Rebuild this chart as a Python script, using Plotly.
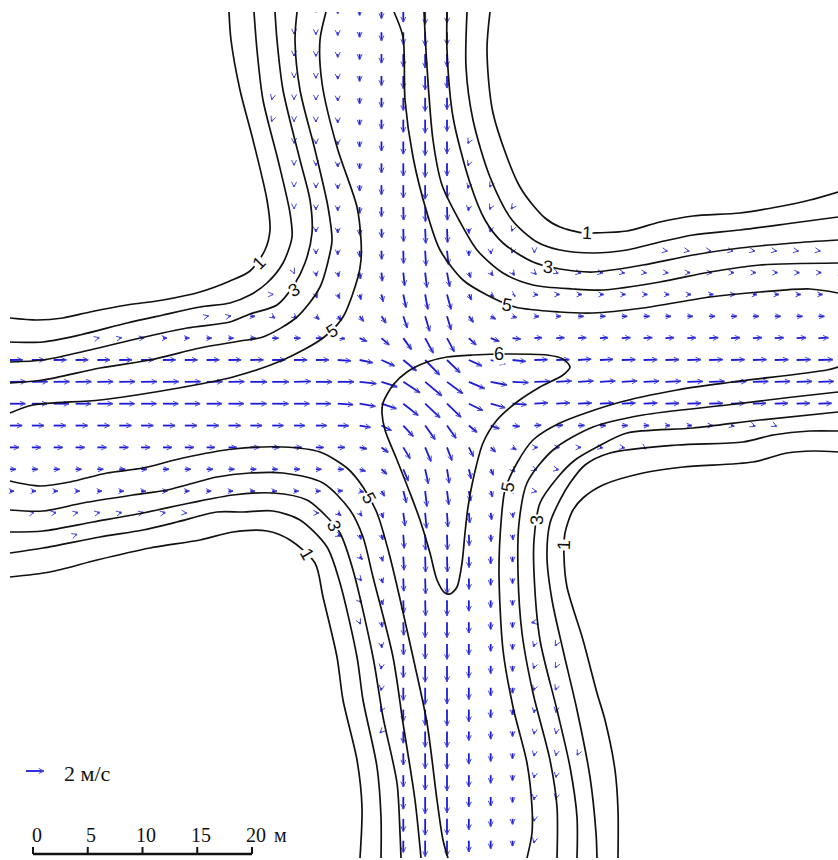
import numpy as np
import plotly.graph_objs as go

# drawing units of the sheet: 10.95 units = 1 m, 9 units = 1 m/s
UNITS_PER_METRE = 10.95
UNITS_PER_MS = 9.0
GRID_X0, GRID_Y0, GRID_STEP = 10.0, 10.4, 21.85

_ = None
# eastward speed, m/s, one row of the 2 m grid per line (north to south)
U = [
    [_]*14 + [0, 0, 0, 0, 0, 0, 0],
    [_]*13 + [0, 0, 0, 0, 0, 0, 0, 0],
    [_]*13 + [0, 0, 0, 0, 0, 0, 0, 0],
    [_]*13 + [0, 0, 0, 0, 0, 0, 0, 0],
    [_]*12 + [-.05, 0, 0, 0, 0, 0, 0, 0, 0],
    [_]*12 + [-.08, 0, 0, 0, 0, 0, 0, 0, 0],
    [_]*13 + [0, 0, 0, 0, 0, 0, 0, 0, -.1],
    [_]*13 + [0, 0, 0, 0, 0, 0, 0, 0, -.1],
    [_]*13 + [0, 0, 0, 0, 0, 0, 0, .03, -.1, -.1],
    [_]*13 + [0, 0, 0, 0, 0, .03, .03, .05, -.05, -.1, -.15],
    [_]*14 + [0, 0, .03, .03, .03, .07, .07, 0, -.05, -.1],
    [_]*14 + [0, 0, .03, .03, .03, .1, .18, 0, .03, -.1, 0] + [_]*5 + [.2, .2, .2, .2, .2, .2, .2, .2],
    [_]*13 + [.05, .05, .1, .1, .1, .15, .2, .3, .2, .25, .2, .2, .2, .3, .3, .3, .3, .3, .3, .3, .3, .3, .3, .3, .3, .3],
    [_]*12 + [.1, _, .1, .2, .15, .2, .3, .3, .45, .3, .35, .3, .4, .35, .4, .4, .4, .4, .4, .4, .45, .45, .45, .45, .45, .45],
    [_]*9 + [.2, .25, .5, .3, .3, .35, .45, .45, .5, .45, .5, .45, .5, .55, .45, .5, .5, .6, .6, .6, .65, .6, .6, .65, .65, .65, .65, .65, .65, .65],
    [_]*4 + [.2, .25, .35, .45, .5, .55, .55, .6, .7, .7, .8, .8, .8, .85, .9, .9, .8, .8, .95, .9, .85, .9, .9, .9, .95, .95, .95, .95, 1, 1, 1, 1, 1.05, 1.1],
    [1.4, 1.4, 1.4, 1.4, 1.4, 1.4, 1.4, 1.4, 1.4, 1.4, 1.4, 1.45, 1.45, 1.45, 1.45, 1.45, 1.45, 1.45, 1.45, 1.6, 1.45, 1.45, 1.6, 1.45, 1.45, 1.45, 1.45, 1.45, 1.5, 1.5, 1.5, 1.5, 1.5, 1.5, 1.5, 1.5, 1.55, 1.6],
    [1.75, 1.75, 1.75, 1.75, 1.75, 1.75, 1.75, 1.75, 1.75, 1.75, 1.75, 1.85, 1.85, 1.85, 1.8, 1.8, 1.85, 1.75, 1.85, 1.85, 1.75, 1.75, 1.8, 1.75, 1.75, 1.7, 1.7, 1.7, 1.7, 1.7, 1.7, 1.7, 1.7, 1.7, 1.7, 1.7, 1.7, 1.7],
    [1.7, 1.7, 1.7, 1.7, 1.7, 1.7, 1.7, 1.7, 1.7, 1.7, 1.7, 1.8, 1.8, 1.7, 1.65, 1.7, 1.75, 1.65, 1.65, 1.65, 1.55, 1.55, 1.6, 1.55, 1.5, 1.5, 1.5, 1.5, 1.5, 1.5, 1.5, 1.5, 1.5, 1.5, 1.45, 1.45, 1.45, 1.45],
    [1.35, 1.35, 1.35, 1.35, 1.35, 1.35, 1.35, 1.35, 1.35, 1.35, 1.35, 1.3, 1.25, 1.2, 1.2, 1.2, 1.2, 1.1, 1.1, 1.1, 1, .9, .95, .8, .75, .75, .7, .65, .65, .6, .5, .5, .4, .35, .25, .2],
    [1, 1, 1, 1, 1, 1, 1, 1, 1, .9, .9, 1, .8, .85, .85, .8, .8, .75, .75, .65, .55, .5, .55, .4, .35, .35, .3, .3, .3, .25],
    [.65, .65, .65, .65, .65, .65, .65, .65, .65, .7, .65, .65, .6, .65, .6, .65, .65, .6, .55, .35, .25, .25, .3, .25, .25, .25],
    [.45, .45, .45, .45, .5, .5, .5, .5, .5, .5, .5, .5, .5, .5, .5, .55, .45, .35, .35, .2, .2, .2, .2, .15, .25],
    [_, .2, .25, .25, .25, .25, .25, .25, .2] + [_]*5 + [.3, .35, .25, .2, .2, .15, .1, .1, .1, .08],
    [_]*3 + [.15] + [_]*11 + [.35, .15, .15, .1, .05, .05, .05, .05, .05],
    [_]*16 + [.3, .15, .08, .05, .05, .03, 0, 0],
    [_]*16 + [.2, .15, .05, .05, .02, .02, 0, 0],
    [_]*16 + [.2, .15, .05, .05, 0, 0, 0, 0],
    [_]*16 + [.1, .1, .05, 0, 0, 0, 0, 0, -.3],
    [_]*17 + [.05, .03, 0, 0, 0, 0, 0, -.1, -.1],
    [_]*17 + [-.05, 0, 0, 0, 0, 0, 0, -.1, -.1],
    [_]*17 + [-.05, 0, 0, 0, 0, 0, 0, -.1, -.1],
    [_]*17 + [-.1, 0, 0, 0, 0, 0, 0, -.05, -.05],
    [_]*17 + [-.15, 0, 0, 0, 0, 0, 0, -.05, -.05],
    [_]*18 + [0, 0, 0, 0, 0, 0, -.05, -.05, -.1],
    [_]*18 + [0, 0, 0, 0, 0, 0, -.05, -.05],
    [_]*18 + [0, 0, 0, 0, 0, 0, -.05, -.05],
    [_]*18 + [0, 0, 0, 0, 0, 0, -.05],
    [_]*18 + [0, 0, 0, 0, 0, 0, -.05],
]
# northward speed, m/s, same shape as U
V = [
    [_]*14 + [-.2, -.35, -.55, -.9, -1.3, -1.55, -1.4],
    [_]*13 + [-.2, -.25, -.35, -.55, -.95, -1.35, -1.5, -1.4],
    [_]*13 + [-.2, -.25, -.35, -.6, -1, -1.4, -1.55, -1.4],
    [_]*13 + [-.2, -.25, -.35, -.6, -1.05, -1.4, -1.55, -1.35],
    [_]*12 + [-.2, -.2, -.25, -.35, -.65, -1.05, -1.4, -1.5, -1.3],
    [_]*12 + [-.2, -.2, -.25, -.35, -.6, -1.05, -1.4, -1.5, -1.3],
    [_]*13 + [-.2, -.25, -.35, -.6, -1.05, -1.4, -1.55, -1.35, -.2],
    [_]*13 + [-.2, -.25, -.4, -.6, -1.05, -1.4, -1.55, -1.4, -.25],
    [_]*13 + [-.2, -.3, -.4, -.65, -1.05, -1.4, -1.55, -1.4, -.35, -.2],
    [_]*13 + [-.2, -.3, -.4, -.7, -1.05, -1.45, -1.6, -1.45, -.4, -.25, -.2],
    [_]*14 + [-.35, -.45, -.7, -.95, -1.4, -1.6, -1.5, -.5, -.35, -.25],
    [_]*14 + [-.35, -.45, -.7, -.95, -1.4, -1.65, -1.55, -.55, -.35, -.25, -.2] + [_]*5 + [-.03, -.03, -.03, -.03, -.03, -.03, -.03, -.03],
    [_]*13 + [-.1, -.4, -.45, -.7, -.95, -1.45, -1.65, -1.55, -.55, -.35, -.3, -.2, -.1, -.05, -.05, -.05, -.03, -.03, 0, 0, 0, 0, 0, 0, 0, 0],
    [_]*12 + [0, _, -.4, -.45, -.55, -.8, -1.45, -1.65, -1.65, -.6, -.3, -.2, -.05, 0, 0, 0, 0, 0, 0, 0, 0, 0, 0, 0, 0, 0],
    [_]*9 + [.05, .05, 0, -.2, -.25, -.35, -.45, -.55, -.75, -1.3, -1.65, -1.5, -.65, -.3, -.15, -.02, 0, 0, 0, 0, 0, 0, 0, 0, 0, 0, 0, 0, 0, 0],
    [_]*4 + [.05, .05, .05, .03, .02, 0, 0, 0, 0, 0, 0, -.05, -.35, -.75, -1.25, -1.65, -1.5, -.75, -.35, -.1, .05, .05, .05, .05, .05, .05, .05, .05, .05, .05, .05, .05, .05, .05],
    [.02, .02, .02, .02, .02, .02, .02, .02, .02, .02, .02, .02, .02, .02, .02, -.1, -.3, -.65, -1.2, -1.65, -1.4, -.65, -.45, -.15, .05, .05, .1, .08, .05, .05, .05, .05, .05, .05, .05, .05, .05, .05],
    [.02, .02, .02, .02, .02, .02, .02, .02, .02, .02, .02, 0, 0, .05, 0, 0, -.2, -.55, -1.2, -1.55, -1.3, -.75, -.35, -.08, .05, .1, .1, .1, .1, .08, .08, .05, .05, .05, .05, .05, .05, .05],
    [0, 0, 0, 0, 0, 0, 0, 0, 0, 0, 0, 0, 0, 0, 0, -.1, -.3, -.55, -1.3, -1.55, -1.5, -.75, -.45, -.1, .1, .1, .08, .08, .08, .08, .05, .05, .05, .05, .05, .05, .05, .05],
    [0, 0, 0, 0, 0, 0, 0, 0, 0, 0, 0, 0, 0, 0, 0, -.02, -.2, -.55, -1.2, -1.55, -1.4, -.75, -.35, -.1, .05, .05, .02, 0, 0, 0, 0, 0, 0, -.05, -.1, -.1],
    [0, 0, 0, 0, 0, 0, 0, 0, 0, 0, 0, 0, 0, 0, 0, 0, -.15, -.55, -1.25, -1.55, -1.45, -1, -.5, -.25, 0, 0, 0, -.05, -.05, -.15],
    [0, 0, 0, 0, 0, 0, 0, 0, 0, 0, 0, 0, 0, 0, 0, 0, -.2, -.55, -1.3, -1.6, -1.55, -1.05, -.65, -.3, -.1, -.05],
    [0, 0, 0, 0, 0, 0, 0, 0, 0, 0, 0, 0, 0, 0, 0, .05, -.08, -.55, -1.3, -1.7, -1.5, -1.1, -.65, -.3, -.05],
    [_, .05, .05, .05, .05, .05, .05, .05, -.02] + [_]*5 + [0, -.3, -.35, -.55, -1.45, -1.7, -1.55, -1.1, -.75, -.5],
    [_]*3 + [.05] + [_]*11 + [-.15, -.5, -.55, -1.5, -1.7, -1.65, -1.2, -.75, -.55],
    [_]*16 + [-.3, -.5, -1.5, -1.7, -1.7, -1.2, -.8, -.6],
    [_]*16 + [-.25, -.5, -1.4, -1.7, -1.7, -1.2, -.75, -.55],
    [_]*16 + [-.25, -.5, -1.4, -1.7, -1.7, -1.2, -.8, -.55],
    [_]*16 + [-.2, -.55, -1.45, -1.7, -1.7, -1.2, -.8, -.6, -.05],
    [_]*17 + [-.4, -1.2, -1.65, -1.7, -1.2, -.8, -.6, -.3, -.2],
    [_]*17 + [-.35, -1.3, -1.8, -1.75, -1.3, -.85, -.6, -.3, -.2],
    [_]*17 + [-.3, -1.4, -1.85, -1.8, -1.3, -.9, -.6, -.3, -.25],
    [_]*17 + [-.2, -1.3, -1.75, -1.8, -1.35, -.9, -.6, -.35, -.3],
    [_]*17 + [-.15, -1.3, -1.75, -1.75, -1, -.85, -.55, -.3, -.25],
    [_]*18 + [-1.3, -1.7, -1.75, -1.2, -.9, -.6, -.3, -.25, -.2],
    [_]*18 + [-1.3, -1.65, -1.75, -1.3, -.9, -.6, -.3, -.25],
    [_]*18 + [-1.35, -1.85, -1.75, -1.1, -1, -.6, -.3, -.25],
    [_]*18 + [-1.4, -1.8, -1.75, -1.2, -.85, -.6, -.25],
    [_]*18 + [-1.3, -1.75, -1.7, -1.25, -.9, -.6, -.25],
]

NW_1 = [(229, 12), (231, 40), (240, 90), (253, 140), (267, 200), (270, 230), (265, 250), (250, 271), (230, 281), (200, 292), (163, 300), (127, 305), (90, 312), (63, 318), (37, 320), (10, 318)]
NW_2 = [(254, 12), (257, 50), (263, 100), (278, 160), (290, 213), (292, 237), (283, 263), (267, 283), (250, 295), (230, 303), (200, 307), (163, 315), (127, 323), (80, 335), (43, 342), (10, 342)]
NW_3 = [(275, 12), (277, 40), (283, 90), (300, 160), (310, 200), (312, 233), (305, 263), (294, 285), (277, 305), (250, 314), (230, 322), (187, 328), (140, 338), (90, 350), (43, 360), (10, 362)]
NW_4 = [(297, 12), (295, 40), (300, 90), (315, 150), (328, 207), (332, 240), (330, 253), (320, 287), (297, 317), (263, 337), (240, 341), (200, 348), (150, 360), (100, 368), (43, 380), (10, 383)]
NW_5 = [(326, 12), (320, 40), (322, 83), (337, 147), (357, 207), (361, 240), (361, 260), (358, 277), (343, 317), (323, 338), (283, 360), (233, 377), (167, 390), (100, 400), (33, 405), (10, 413)]
# north-east block
NE_1 = [(490, 12), (487, 50), (493, 113), (520, 187), (545, 218), (560, 227), (583, 233), (593, 233), (627, 231), (660, 222), (693, 216), (740, 213), (777, 207), (810, 200), (838, 192)]
NE_2 = [(467, 12), (466, 67), (473, 120), (490, 177), (512, 220), (537, 242), (560, 250), (593, 253), (627, 250), (660, 242), (693, 235), (740, 230), (793, 223), (838, 217)]
NE_3 = [(447, 12), (447, 50), (453, 117), (470, 183), (485, 220), (503, 243), (533, 262), (560, 269), (593, 272), (643, 265), (693, 255), (740, 248), (793, 243), (838, 240)]
NE_4 = [(424, 12), (427, 67), (433, 140), (442, 185), (459, 220), (477, 250), (503, 273), (533, 285), (573, 289), (603, 290), (660, 282), (710, 272), (760, 265), (838, 263)]
NE_5 = [(394, 12), (403, 37), (405, 100), (413, 157), (427, 213), (440, 250), (463, 280), (487, 295), (515, 307), (560, 312), (593, 313), (643, 308), (710, 297), (760, 292), (810, 289), (838, 293)]
# south-east block
SE_1 = [(838, 452), (813, 451), (787, 453), (753, 462), (683, 467), (643, 473), (603, 485), (583, 498), (573, 510), (565, 533), (564, 557), (567, 587), (583, 640), (597, 693), (605, 720), (615, 770), (618, 810), (618, 858)]
SE_2 = [(838, 431), (810, 431), (773, 435), (743, 442), (677, 445), (610, 453), (585, 465), (570, 483), (560, 500), (550, 523), (547, 557), (552, 600), (563, 650), (577, 710), (590, 777), (596, 833), (597, 858)]
SE_3 = [(838, 412), (760, 420), (693, 428), (627, 433), (597, 447), (575, 460), (558, 477), (540, 503), (534, 540), (534, 573), (540, 640), (557, 710), (570, 767), (577, 817), (577, 858)]
SE_4 = [(838, 392), (793, 397), (727, 405), (643, 415), (593, 427), (553, 450), (527, 483), (519, 523), (518, 573), (522, 633), (533, 693), (550, 760), (557, 807), (557, 858)]
SE_5 = [(838, 367), (827, 370), (733, 382), (677, 390), (617, 403), (560, 423), (533, 440), (517, 463), (505, 490), (501, 523), (499, 573), (503, 650), (513, 707), (527, 763), (532, 807), (532, 833), (527, 858)]
# south-west block
SW_1 = [(10, 577), (50, 572), (97, 560), (150, 548), (200, 540), (233, 532), (267, 531), (290, 540), (315, 563), (323, 597), (337, 657), (343, 700), (357, 760), (362, 807), (360, 858)]
SW_2 = [(10, 553), (43, 548), (100, 537), (143, 530), (177, 522), (217, 512), (243, 512), (273, 511), (300, 520), (327, 547), (340, 583), (357, 657), (363, 700), (377, 767), (381, 817), (381, 858)]
SW_3 = [(10, 532), (43, 531), (93, 522), (143, 513), (190, 503), (233, 495), (273, 493), (307, 500), (328, 518), (340, 533), (353, 570), (373, 657), (383, 717), (397, 783), (400, 833), (401, 858)]
SW_4 = [(10, 510), (43, 511), (83, 503), (133, 495), (167, 490), (217, 477), (250, 473), (283, 473), (323, 483), (350, 510), (363, 537), (373, 577), (393, 657), (403, 723), (415, 800), (421, 858)]
SW_5 = [(10, 481), (40, 486), (70, 482), (107, 473), (143, 468), (183, 458), (233, 449), (283, 447), (320, 452), (347, 468), (363, 487), (377, 513), (390, 557), (413, 657), (427, 723), (437, 800), (443, 840), (448, 858)]
# the closed 6 m/s isoline
CORE_6 = [(383, 403), (382, 413), (385, 430), (397, 460), (410, 493), (420, 520), (430, 553), (437, 580), (445, 593), (450, 594), (457, 587), (462, 563), (465, 533), (468, 507), (473, 480), (483, 443), (497, 420), (517, 402), (540, 387), (563, 375), (570, 367), (563, 359), (547, 355), (507, 354), (473, 355), (447, 357), (427, 362), (407, 372), (393, 385), (383, 403)]
ISOLINES = [NW_1, NW_2, NW_3, NW_4, NW_5, NE_1, NE_2, NE_3, NE_4, NE_5, SE_1, SE_2, SE_3, SE_4, SE_5, SW_1, SW_2, SW_3, SW_4, SW_5, CORE_6]

# isoline labels
LABEL_TEXT = ['1', '3', '5', '6', '5', '3', '1', '5', '3', '1', '5', '3', '1']
LABEL_X = [259, 294, 332, 499, 507, 548, 587, 369, 334, 307, 508, 537, 564]
LABEL_Y = [263, 290, 331, 354, 305, 267, 233, 498, 526, 554, 487, 520, 545]
LABEL_ANGLE = [-45, -30, -32, 0, 10, 5, 3, 62, 68, 60, -80, -88, -88]

SCALE_METRES = [0, 5, 10, 15, 20]
SCALE_LABELS = ['0', '5', '10', '15', '20']
KEY_SPEED = 2

BLUE = '#1c1cd6'
HEAD_BLUE = '#4a4ade'


def add_arrow(shaft, head, x0, y0, u, v):
    # y axis runs downwards on the sheet
    dx, dy = u * UNITS_PER_MS, -v * UNITS_PER_MS
    length = np.hypot(dx, dy)
    ux, uy = (dx / length, dy / length) if length else (1.0, 0.0)
    tx, ty = x0 + dx, y0 + dy
    shaft[0].extend([x0, tx, None])
    shaft[1].extend([y0, ty, None])
    back, side = 5.2, 2.5
    head[0].extend([tx - back * ux - side * uy, tx, tx - back * ux + side * uy, None])
    head[1].extend([ty - back * uy + side * ux, ty, ty - back * uy - side * ux, None])


shaft, head = ([], []), ([], [])
for k, (row_u, row_v) in enumerate(zip(U, V)):
    for i, (u, v) in enumerate(zip(row_u, row_v)):
        if u is None or v is None:
            continue
        add_arrow(shaft, head, GRID_X0 + GRID_STEP * i, GRID_Y0 + GRID_STEP * k, u, v)
# key arrow
add_arrow(shaft, head, 26, 771, KEY_SPEED, 0)

data = []
data.append(go.Scatter(x=shaft[0], y=shaft[1], mode='lines', hoverinfo='skip',
                       line=dict(color=BLUE, width=1.8)))
data.append(go.Scatter(x=head[0], y=head[1], mode='lines', hoverinfo='skip',
                       line=dict(color=HEAD_BLUE, width=1)))

for line in ISOLINES:
    data.append(go.Scatter(x=[p[0] for p in line], y=[p[1] for p in line], mode='lines', hoverinfo='skip',
                           line=dict(color='#111111', width=1.7, shape='spline', smoothing=0.8)))

# scale bar
bar_x = [33 + m * UNITS_PER_METRE for m in SCALE_METRES]
data.append(go.Scatter(x=[bar_x[0], bar_x[-1]], y=[854, 854], mode='lines', hoverinfo='skip',
                       line=dict(color='#111111', width=2.6)))
tick_x, tick_y = [], []
for x in bar_x:
    tick_x += [x, x, None]
    tick_y += [854, 847, None]
data.append(go.Scatter(x=tick_x, y=tick_y, mode='lines', hoverinfo='skip',
                       line=dict(color='#111111', width=2)))

annotations = []
for text, x, y, angle in zip(LABEL_TEXT, LABEL_X, LABEL_Y, LABEL_ANGLE):
    annotations.append(dict(x=x, y=y, text=text, textangle=angle, showarrow=False, bgcolor='white', borderpad=0,
                            font=dict(family='Liberation Sans', size=18, color='#111111')))
for text, x in zip(SCALE_LABELS, bar_x):
    annotations.append(dict(x=x + 3.5, y=835, text=text, showarrow=False,
                            font=dict(family='Liberation Serif', size=20, color='#111111')))
annotations.append(dict(x=280, y=835, text='м', showarrow=False,
                        font=dict(family='Liberation Serif', size=20, color='#111111')))
annotations.append(dict(x=62, y=773, text='2 м/с', showarrow=False, xanchor='left',
                        font=dict(family='Liberation Serif', size=22, color='#111111')))

layout = go.Layout(width=838, height=860, margin=dict(l=0, r=0, t=0, b=0), showlegend=False,
                   paper_bgcolor='white', plot_bgcolor='white',
                   xaxis=dict(range=[0, 838], visible=False, fixedrange=True),
                   yaxis=dict(range=[860, 0], visible=False, fixedrange=True),
                   shapes=[dict(type='rect', x0=0, x1=838, y0=0, y1=12, layer='above',
                                fillcolor='white', line=dict(width=0))],
                   annotations=annotations)

fig = go.Figure(data=data, layout=layout)
fig.write_html('out.html', config=dict(displayModeBar=False),
               post_script="document.body.style.margin='0';")
